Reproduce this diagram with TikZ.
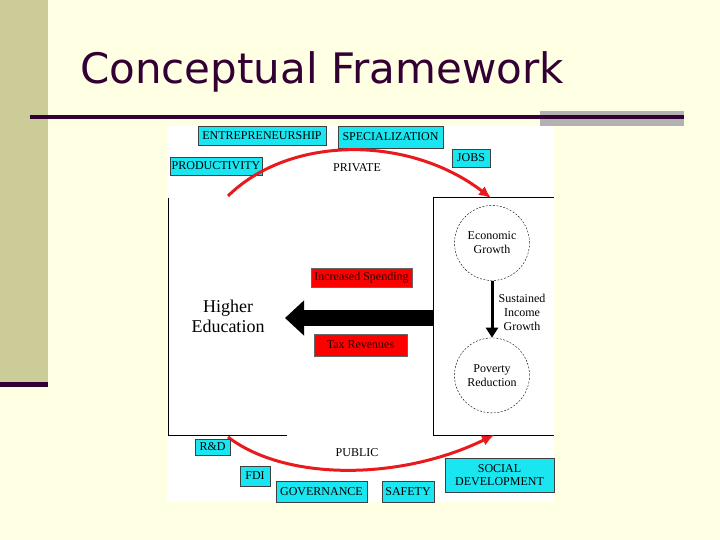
\documentclass[tikz,border=0pt]{standalone}
\usepackage{fontspec}
\setmainfont{Liberation Serif}
\newfontfamily\titlefont{DejaVu Sans}
\usetikzlibrary{arrows.meta, positioning}
\definecolor{slidebg}{HTML}{FFFFE3}
\definecolor{sidebar}{HTML}{CCCC99}
\definecolor{plum}{HTML}{330033}
\definecolor{bargray}{HTML}{B2B2B2}
\definecolor{tagcyan}{HTML}{19E6F0}
\definecolor{flowred}{HTML}{E81A1E}
\tikzset{
  tag/.style={draw=black!75, fill=tagcyan, align=center, inner sep=1pt, minimum height=19pt},
  money/.style={draw=black!60, fill=red, text=black!85!red, inner sep=1pt, minimum height=20pt},
  goal/.style={draw, circle, dashed, dash pattern=on 2pt off 1.5pt, thin, align=center, minimum size=75pt, inner sep=0pt},
  label/.style={align=center},
  flow/.style={-{Latex[length=12pt, width=11pt]}, line width=3pt, flowred},
  every node/.style={font=\fontsize{12}{14}\selectfont}
}

\begin{document}
\begin{tikzpicture}[x=1pt, y=-1pt]
    % slide
    \fill[slidebg] (0,0) rectangle (720,540);
    \useasboundingbox (0,0) rectangle (720,540);
    \fill[sidebar] (0,0) rectangle (48,382);
    \fill[plum] (0,382) rectangle (48,387);
    \fill[bargray] (540,111) rectangle (684,126);
    \fill[plum] (30,115) rectangle (684,119);
    \node[anchor=base west, text=plum, font=\titlefont\fontsize{42}{42}\selectfont, inner sep=0pt] (title) at (80,84) {Conceptual Framework};
    \fill[white] (167,126) rectangle (554,502);

    % private side
    \node[tag, minimum width=128pt] (entre) at (262,136) {ENTREPRENEURSHIP};
    \node[tag, minimum width=105pt, minimum height=22pt] (spec) at (390.5,137) {SPECIALIZATION};
    \node[tag, minimum width=38pt, minimum height=18pt] (jobs) at (471,158) {JOBS};
    \node[tag, minimum width=92pt, minimum height=18pt] (prod) at (216,166) {PRODUCTIVITY};
    \node[label] (private) at (357,168) {PRIVATE};

    % the two sectors
    \coordinate (lt) at (168,198);
    \coordinate (lb) at (168,435);
    \coordinate (lr) at (287,435);
    \coordinate (rt) at (554,197);
    \coordinate (rtl) at (433,197);
    \coordinate (rbl) at (433,435);
    \coordinate (rb) at (554,435);
    \draw[thin] (lt) -- (lb) -- (lr);
    \draw[thin] (rt) -- (rtl) -- (rbl) -- (rb);

    \node[label, font=\fontsize{18}{20}\selectfont] (hied) at (228,316) {Higher\\Education};
    \node[goal] (econ) at (492,243) {Economic\\Growth};
    \node[goal, below=57pt of econ] (pov) {Poverty\\Reduction};
    \node[label] (income) at (522,312) {Sustained\\Income\\Growth};
    \draw[-{Triangle[length=10pt, width=12pt]}, line width=3pt] (econ) -- (pov);

    \node[money, minimum width=101pt, minimum height=19pt] (spend) at (361.5,277.5) {Increased Spending};
    \node[money, minimum width=93pt, minimum height=22pt] (tax) at (360.5,345) {Tax Revenues};
    \coordinate (back) at (434,318);
    \coordinate (tip) at (285,318);
    \draw[-{Triangle[length=19pt, width=34pt]}, line width=16pt] (back) -- (tip);

    % flows
    \coordinate (ps) at (228,196);
    \coordinate (pe) at (491,198);
    \draw[flow] (ps) .. controls (290,135) and (409,135) .. (pe);
    \coordinate (qs) at (228,437);
    \coordinate (qe) at (494,435);
    \draw[flow] (qs) .. controls (285,481) and (400,481) .. (qe);

    % public side
    \node[tag, minimum width=35pt, minimum height=16pt] (rnd) at (212.5,447) {R\&D};
    \node[label] (public) at (357,453) {PUBLIC};
    \node[tag, minimum width=30pt, minimum height=20pt] (fdi) at (255,476) {FDI};
    \node[tag, minimum width=91pt, minimum height=21pt] (gov) at (321.5,491.5) {GOVERNANCE};
    \node[tag, minimum width=52pt, minimum height=21pt] (safety) at (408,491.5) {SAFETY};
    \node[tag, minimum width=109pt, minimum height=34pt, font=\fontsize{12}{13}\selectfont] (social) at (499.5,475) {SOCIAL\\DEVELOPMENT};
\end{tikzpicture}
\end{document}
